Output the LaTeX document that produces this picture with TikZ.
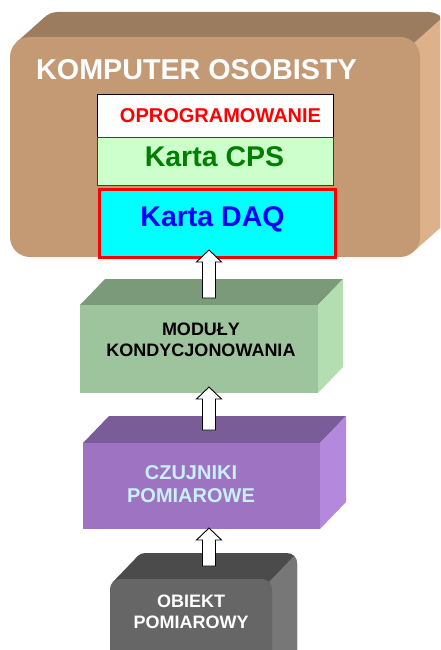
\documentclass[tikz,border=0pt]{standalone}
\usepackage{fontspec}
\setmainfont{Liberation Sans}
\usetikzlibrary{calc}

% face colours of the solids
\definecolor{pcfront}{HTML}{C49A74}
\definecolor{pctop}{HTML}{9C7C5F}
\definecolor{pcside}{HTML}{DDB189}
\definecolor{modfront}{HTML}{9DC49D}
\definecolor{modtop}{HTML}{7A9A7A}
\definecolor{modside}{HTML}{B2DEB2}
\definecolor{senfront}{HTML}{9E74C2}
\definecolor{sentop}{HTML}{7A5C98}
\definecolor{senside}{HTML}{B488DC}
\definecolor{objfront}{HTML}{666666}
\definecolor{objtop}{HTML}{4B4B4B}
\definecolor{objside}{HTML}{777777}
\definecolor{cpsfill}{HTML}{CCFFCC}
\definecolor{cpsgreen}{HTML}{008000}
\definecolor{daqfill}{HTML}{00FFFF}
\definecolor{daqtext}{HTML}{0000FF}
\definecolor{sentext}{HTML}{C8F0FF}

% extruded rounded box: x0,y0,x1,y1 (front face), radius, dx, dy, colour prefix
\newcommand\roundedprism[8]{%
  \pgfmathsetmacro\cc{0.2929*#5}%
  \fill[#8top, rounded corners=#5] (#1+#6,#2+#7) rectangle (#3+#6,#4+#7);
  \fill[#8top] (#1+\cc,#2+\cc) -- (#1+\cc+#6,#2+\cc+#7) -- (#3-\cc+#6,#2+\cc+#7) -- (#3-\cc,#2+\cc) -- cycle;
  \fill[#8side] (#3-\cc,#2+\cc) -- (#3-\cc+#6,#2+\cc+#7) -- (#3-\cc+#6,#4-\cc+#7) -- (#3-\cc,#4-\cc) -- cycle;
  \begin{scope}
    \clip (#3-\cc+#6,#2+#7-5) rectangle (#3+#6+5,#4+#7+5);
    \fill[#8side, rounded corners=#5] (#1+#6,#2+#7) rectangle (#3+#6,#4+#7);
  \end{scope}
  \fill[#8front, rounded corners=#5] (#1,#2) rectangle (#3,#4);
}

% extruded sharp box: x0,y0,x1,y1 (front face), dx, dy, colour prefix
\newcommand\boxprism[7]{%
  \fill[#7top] (#1,#2) -- (#1+#5,#2+#6) -- (#3+#5,#2+#6) -- (#3,#2) -- cycle;
  \fill[#7side] (#3,#2) -- (#3+#5,#2+#6) -- (#3+#5,#4+#6) -- (#3,#4) -- cycle;
  \fill[#7front] (#1,#2) rectangle (#3,#4);
}

% hollow block arrow from a base coordinate up to a tip coordinate
\newcommand\blockarrow[2]{%
  \draw[hollowarrow] let \p1=(#1), \p2=(#2) in
    (\x2-6.5pt,\y2) -- (\x2-6.5pt,\y1-12pt) -- (\x2-12.5pt,\y1-12pt) -- (\x1,\y1)
    -- (\x2+12.5pt,\y1-12pt) -- (\x2+6.5pt,\y1-12pt) -- (\x2+6.5pt,\y2) -- cycle;
}

\begin{document}
\begin{tikzpicture}[x=1pt, y=-1pt,
  hollowarrow/.style={fill=white, draw=black, line width=0.9pt, line join=miter},
  label/.style={inner sep=0pt, font=\bfseries},
  layer/.style={inner sep=0pt, anchor=north west}]
\useasboundingbox (0,0) rectangle (440,650);
\clip (0,0) rectangle (440,650);

% personal computer
\roundedprism{10}{37}{420}{257}{20}{28}{-25}{pc}
\node[label, anchor=base west, text=white, font=\fontsize{28.7}{30}\selectfont\bfseries]
  (pctitle) at (36,80) {KOMPUTER OSOBISTY};

% software / CPS card / DAQ card stack
\node[layer, draw=black, line width=0.8pt, fill=white, minimum width=236pt, minimum height=43pt]
  (soft) at (97,94) {};
\node[layer, draw=cpsgreen!80!black, line width=0.8pt, fill=cpsfill, minimum width=236pt, minimum height=48pt]
  (cps) at (97,137) {};
\node[layer, draw=red, line width=3pt, fill=daqfill, minimum width=236pt, minimum height=68pt]
  (daq) at (97.5,187.5) {};
\node[label, anchor=base, text=red, font=\fontsize{20}{22}\selectfont\bfseries]
  (softtxt) at (220.5,122) {OPROGRAMOWANIE};
\node[label, anchor=base, text=cpsgreen, font=\fontsize{28.5}{30}\selectfont\bfseries]
  (cpstxt) at (214.5,166) {Karta CPS};
\node[label, anchor=base, text=daqtext, font=\fontsize{28.5}{30}\selectfont\bfseries]
  (daqtxt) at (212.5,226) {Karta DAQ};

% signal conditioning modules
\boxprism{80}{305}{318}{393}{25}{-26}{mod}
\node[label, align=center, text=black, font=\fontsize{18}{21}\selectfont\bfseries]
  (modtxt) at (201,340) {MODUŁY\\KONDYCJONOWANIA};

\coordinate (tip1) at (209,250);
\coordinate (base1) at (209,298);
\blockarrow{tip1}{base1}

% sensors
\boxprism{83}{443}{320}{529}{26}{-27}{sen}
\node[label, align=center, text=sentext, font=\fontsize{20}{23}\selectfont\bfseries]
  (sentxt) at (191,484.5) {CZUJNIKI\\POMIAROWE};

\coordinate (tip2) at (209,387);
\coordinate (base2) at (209,430);
\blockarrow{tip2}{base2}

% measured object
\roundedprism{110}{579}{272}{690}{10}{25}{-26}{obj}
\node[label, align=center, text=white, font=\fontsize{18}{21}\selectfont\bfseries]
  (objtxt) at (191,612) {OBIEKT\\POMIAROWY};

\coordinate (tip3) at (209,528);
\coordinate (base3) at (209,566);
\blockarrow{tip3}{base3}
\end{tikzpicture}
\end{document}
